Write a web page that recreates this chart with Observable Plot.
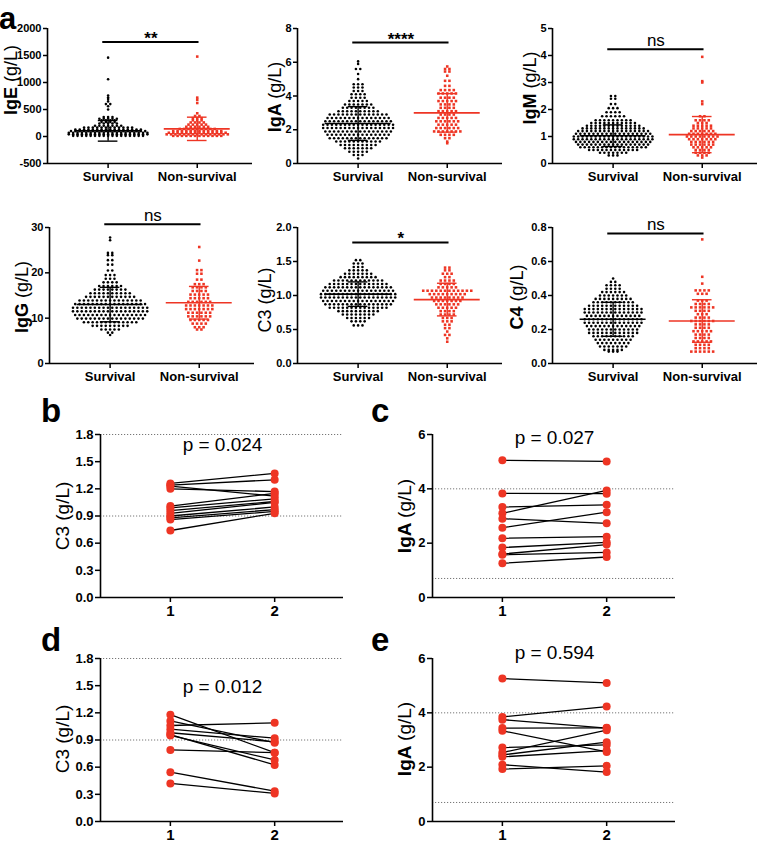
<!DOCTYPE html>
<html><head><meta charset="utf-8">
<script src="https://cdn.jsdelivr.net/npm/d3@7"></script>
<script src="https://cdn.jsdelivr.net/npm/@observablehq/plot@0.6"></script>
<style>
body{margin:0;background:#fff;font-family:Arial,"Liberation Sans",Helvetica,sans-serif;}
#fig{position:relative;width:759px;height:842px;overflow:hidden;background:#fff;}
.panel{position:absolute;}
.panel svg{display:block;overflow:visible;max-width:none;}
.letter{position:absolute;font-weight:bold;font-size:33px;line-height:1;color:#000;}
.ylab{position:absolute;white-space:nowrap;transform:translate(-50%,-50%) rotate(-90deg);color:#000;line-height:1;}
</style></head><body><div id="fig"></div>
<script>
// ---------------- DATA ----------------
const groups = ["Survival", "Non-survival"];

// Panel a: rows of dots as [value, number of dots in that row]
const igeSurvival = [[1460,1],[1060,1],[760,1],[720,1],[695,1],[650,1],[600,2],[560,1],[500,1],[360,3],[330,5],[300,4],[270,4],[240,5],[200,7],[165,12],[130,16],[100,18],[70,19],[40,19],[12,17]];
const igeNonSurvival = [[1480,1],[720,1],[680,1],[620,1],[430,1],[380,2],[340,3],[300,3],[260,4],[220,5],[180,6],[140,9],[100,12],[70,14],[40,15],[12,12]];
const igeMean = [105, 142], igeSD = [191, 216];
const igeTicks = [-500, 0, 500, 1000, 1500, 2000];

const igaSurvival = [[6.05,1],[5.9,1],[5.6,2],[5.3,1],[5.0,1],[4.7,3],[4.5,3],[4.3,3],[4.1,4],[3.9,4],[3.7,5],[3.5,7],[3.3,8],[3.1,10],[2.9,14],[2.7,15],[2.5,16],[2.3,17],[2.1,17],[1.9,16],[1.7,15],[1.5,14],[1.3,11],[1.1,9],[0.9,7],[0.7,5],[0.5,3],[0.3,1]];
const igaNonSurvival = [[5.75,1],[5.6,2],[5.45,2],[5.2,1],[4.9,2],[4.6,2],[4.35,4],[4.15,5],[3.9,4],[3.7,5],[3.5,4],[3.3,4],[3.1,5],[2.9,4],[2.7,5],[2.5,6],[2.3,5],[2.1,6],[1.9,7],[1.7,4],[1.5,2],[1.3,1],[1.2,1]];
const igaMean = [2.37, 3.0], igaSD = [1.0, 1.14];
const igaTicks = [0, 2, 4, 6, 8];

const igmSurvival = [[2.5,2],[2.4,2],[2.2,2],[2.05,3],[1.9,4],[1.75,6],[1.6,9],[1.5,11],[1.4,13],[1.3,15],[1.2,17],[1.1,18],[1.0,19],[0.9,19],[0.8,18],[0.7,17],[0.6,16],[0.5,12],[0.4,7],[0.3,3]];
const igmNonSurvival = [[3.95,1],[3.05,1],[3.0,1],[2.3,1],[2.2,1],[1.75,2],[1.6,4],[1.5,3],[1.4,5],[1.3,5],[1.2,6],[1.1,7],[1.0,8],[0.9,7],[0.8,6],[0.7,6],[0.6,5],[0.5,4],[0.4,4],[0.3,3],[0.22,1]];
const igmMean = [1.03, 1.07], igmSD = [0.40, 0.67];
const igmTicks = [0, 1, 2, 3, 4, 5];

const iggSurvival = [[27.8,1],[27.2,1],[24.4,2],[23.9,2],[22.8,2],[21.8,2],[20.5,2],[19.5,3],[18.7,3],[17.9,4],[17.1,6],[16.3,8],[15.5,10],[14.7,12],[13.9,15],[13.1,17],[12.3,18],[11.5,18],[10.7,17],[9.9,16],[9.1,13],[8.3,9],[7.5,5],[6.8,2],[6.3,1]];
const iggNonSurvival = [[25.7,1],[22.7,1],[20.6,2],[19.8,2],[18.5,2],[17.5,3],[16.8,4],[16.0,4],[15.2,5],[14.4,5],[13.6,6],[12.8,7],[12.0,7],[11.2,6],[10.4,6],[9.6,5],[8.8,4],[8.0,3],[7.5,2]];
const iggMean = [13.0, 13.4], iggSD = [3.8, 3.6];
const iggTicks = [0, 10, 20, 30];

const c3Survival = [[1.52,2],[1.47,3],[1.42,3],[1.37,5],[1.32,7],[1.27,9],[1.22,12],[1.17,14],[1.12,16],[1.07,17],[1.02,18],[0.97,18],[0.92,17],[0.87,16],[0.82,14],[0.77,10],[0.72,8],[0.67,6],[0.62,4],[0.56,3]];
const c3NonSurvival = [[1.41,2],[1.37,2],[1.32,3],[1.27,2],[1.22,4],[1.17,4],[1.12,5],[1.07,12],[1.02,9],[0.97,8],[0.92,7],[0.87,6],[0.82,5],[0.77,4],[0.72,4],[0.67,3],[0.62,3],[0.57,2],[0.52,2],[0.47,1],[0.42,2],[0.37,1],[0.32,1]];
const c3Mean = [1.02, 0.94], c3SD = [0.18, 0.24];
const c3Ticks = [0, 0.5, 1.0, 1.5, 2.0];

const c4Survival = [[0.50,1],[0.48,2],[0.46,4],[0.44,4],[0.42,6],[0.40,7],[0.38,9],[0.36,10],[0.34,12],[0.32,14],[0.30,14],[0.28,13],[0.26,14],[0.24,14],[0.22,13],[0.20,12],[0.18,12],[0.16,10],[0.14,9],[0.12,8],[0.10,7],[0.08,5],[0.07,3]];
const c4NonSurvival = [[0.73,1],[0.51,1],[0.47,1],[0.43,4],[0.41,3],[0.37,3],[0.35,4],[0.33,6],[0.31,4],[0.29,3],[0.27,4],[0.25,6],[0.23,4],[0.21,4],[0.19,5],[0.17,4],[0.15,4],[0.13,5],[0.11,4],[0.09,4],[0.07,6]];
const c4Mean = [0.26, 0.25], c4SD = [0.10, 0.125];
const c4Ticks = [0, 0.2, 0.4, 0.6, 0.8];

// significance marks
const sigLabels = ["**", "****", "ns", "ns", "*", "ns"];
const sigLevels = [1750, 7.17, 4.23, 30.7, 1.78, 0.765];

// Panels b–e: paired values, time point 1 -> 2
const timePoints = [1, 2];
const bC3Before = [1.26,1.24,1.23,1.20,1.01,0.99,0.96,0.93,0.90,0.88,0.86,0.74];
const bC3After  = [1.37,1.30,1.12,1.17,1.15,1.09,1.06,1.05,1.00,0.97,0.95,0.93];
const cIgaBefore = [5.05,3.83,3.33,3.10,2.90,2.57,2.18,1.84,1.60,1.57,1.26];
const cIgaAfter  = [5.01,3.82,3.41,3.94,2.73,3.14,2.24,2.03,1.95,1.66,1.49];
const dC3Before = [1.18,1.11,1.06,1.02,0.98,0.96,0.95,0.79,0.545,0.42];
const dC3After  = [0.76,0.87,1.09,0.92,0.88,0.625,0.68,0.76,0.335,0.31];
const eIgaBefore = [5.26,3.85,3.75,3.44,3.34,2.72,2.54,2.45,2.38,2.09,1.93];
const eIgaAfter  = [5.10,4.23,3.44,3.45,2.56,2.82,3.36,2.92,2.61,1.82,2.05];
const pValues = ["p = 0.024", "p = 0.027", "p = 0.012", "p = 0.594"];
const c3Range = [0.9, 1.8];   // dotted reference lines
const igaRange = [0.7, 4];
const c3PairTicks = [0, 0.3, 0.6, 0.9, 1.2, 1.5, 1.8];
const igaPairTicks = [0, 2, 4, 6];

// ---------------- DRAWING ----------------
const RED = "#ee3524";
const FONT = "Arial, 'Liberation Sans', Helvetica, sans-serif";
const fig = document.getElementById("fig");

function place(node, left, top) {
  const d = document.createElement("div");
  d.className = "panel";
  d.style.left = left + "px"; d.style.top = top + "px";
  d.appendChild(node);
  fig.appendChild(d);
}
function addLetter(t, left, top, size) {
  const d = document.createElement("div");
  d.className = "letter"; d.textContent = t;
  d.style.left = left + "px"; d.style.top = top + "px";
  if (size) d.style.fontSize = size + "px";
  fig.appendChild(d);
}
function addYLabel(main, unit, cx, cy, size, boldMain) {
  const d = document.createElement("div");
  d.className = "ylab";
  d.style.left = cx + "px"; d.style.top = cy + "px"; d.style.fontSize = size + "px";
  const m = document.createElement("span");
  m.textContent = main + " ";
  m.style.fontWeight = boldMain ? "bold" : "normal";
  const u = document.createElement("span");
  u.textContent = unit;
  d.appendChild(m); d.appendChild(u);
  fig.appendChild(d);
}

const DX = 0.049;
function expand(rows, g) {
  const pts = [];
  for (const [v, n] of rows) for (let k = 0; k < n; k++) pts.push({x: g + (k - (n - 1) / 2) * DX, v});
  return pts;
}
function statMarks(mean, sd, g, color) {
  const s = [{g, m: mean, lo: mean - sd, hi: mean + sd}];
  return [
    Plot.ruleY(s, {y: "m", x1: d => d.g - 0.37, x2: d => d.g + 0.37, stroke: color, strokeWidth: 1.6}),
    Plot.ruleX(s, {x: "g", y1: "lo", y2: "hi", stroke: color, strokeWidth: 1.4}),
    Plot.ruleY(s, {y: "hi", x1: d => d.g - 0.11, x2: d => d.g + 0.11, stroke: color, strokeWidth: 1.4}),
    Plot.ruleY(s, {y: "lo", x1: d => d.g - 0.11, x2: d => d.g + 0.11, stroke: color, strokeWidth: 1.4})
  ];
}

function scatter(p) {
  const ymin = p.ticks[0], ymax = p.ticks[p.ticks.length - 1];
  const xd = [0.32, 2.62];
  const isNs = p.sig === "ns";
  return Plot.plot({
    width: p.width, height: 185,
    marginLeft: p.ml, marginRight: p.width - p.ml - 205, marginTop: p.mt, marginBottom: 22,
    style: {background: "transparent", fontFamily: FONT, color: "black", overflow: "visible"},
    x: {domain: xd, axis: null},
    y: {domain: [ymin, ymax], axis: null},
    marks: [
      Plot.dot(expand(p.surv, 1), {x: "x", y: "v", r: 1.3, fill: "black"}),
      Plot.dot(expand(p.non, 2), {x: "x", y: "v", r: 1.45, symbol: "square", fill: RED}),
      ...statMarks(p.mean[0], p.sd[0], 1, "black"),
      ...statMarks(p.mean[1], p.sd[1], 2, RED),
      Plot.ruleY([p.sigY], {x1: 0.94, x2: 2.02, stroke: "black", strokeWidth: 2}),
      Plot.text([p.sig], {x: 1.48, y: p.sigY, text: d => d, lineAnchor: "bottom",
        dy: isNs ? -3 : 2, fontSize: 17, fontWeight: isNs ? "normal" : "bold"}),
      Plot.ruleX([xd[0]], {y1: ymin, y2: ymax, stroke: "black", strokeWidth: 1.6}),
      Plot.ruleY([ymin], {x1: xd[0], x2: xd[1], stroke: "black", strokeWidth: 1.6}),
      Plot.axisY({ticks: p.ticks, tickFormat: p.fmt, tickSize: 4, tickPadding: 2, strokeWidth: 1.5,
        fontSize: 11, fontWeight: "bold", label: null}),
      Plot.axisX({ticks: [1, 2], tickFormat: d => groups[d - 1], tickSize: 5, tickPadding: 3, strokeWidth: 1.5,
        fontSize: 13, fontWeight: "bold", label: null})
    ]
  });
}

function paired(p) {
  const data = p.before.flatMap((v, i) => [{t: timePoints[0], v, id: i}, {t: timePoints[1], v: p.after[i], id: i}]);
  const ymin = p.ticks[0], ymax = p.ticks[p.ticks.length - 1];
  const xd = [0.33, 2.66];
  return Plot.plot({
    width: p.ml + 243 + 4, height: p.height,
    marginLeft: p.ml, marginRight: 4, marginTop: 39, marginBottom: p.height - 39 - 163,
    style: {background: "transparent", fontFamily: FONT, color: "black", overflow: "visible"},
    x: {domain: xd, axis: null},
    y: {domain: [ymin, ymax], axis: null},
    marks: [
      Plot.ruleY(p.range, {stroke: "#777", strokeWidth: 1, strokeDasharray: "1.2,1.8"}),
      Plot.line(data, {x: "t", y: "v", z: "id", stroke: "black", strokeWidth: 1.3}),
      Plot.dot(data, {x: "t", y: "v", r: 4, fill: RED}),
      Plot.text([p.p], {x: 1.5, y: p.pY, text: d => d, fontSize: 19, fontWeight: "normal"}),
      Plot.ruleX([xd[0]], {y1: ymin, y2: ymax, stroke: "black", strokeWidth: 1.6}),
      Plot.ruleY([ymin], {x1: xd[0], x2: xd[1], stroke: "black", strokeWidth: 1.6}),
      Plot.axisY({ticks: p.ticks, tickFormat: p.fmt, tickSize: 5, tickPadding: 2, strokeWidth: 1.5,
        fontSize: 13, fontWeight: "bold", label: null}),
      Plot.axisX({ticks: timePoints, tickFormat: d => String(d), tickSize: 5, tickPadding: 3, strokeWidth: 1.5,
        fontSize: 15, fontWeight: "bold", label: null})
    ]
  });
}

const plain = d => String(d);
const one = d => d.toFixed(1);

// Panel a
place(scatter({width: 252, ml: 47, mt: 28, ticks: igeTicks, fmt: plain, surv: igeSurvival, non: igeNonSurvival, mean: igeMean, sd: igeSD, sig: sigLabels[0], sigY: sigLevels[0]}), 0, 0);
place(scatter({width: 252, ml: 47, mt: 28, ticks: igaTicks, fmt: plain, surv: igaSurvival, non: igaNonSurvival, mean: igaMean, sd: igaSD, sig: sigLabels[1], sigY: sigLevels[1]}), 250, 0);
place(scatter({width: 259, ml: 52, mt: 28, ticks: igmTicks, fmt: plain, surv: igmSurvival, non: igmNonSurvival, mean: igmMean, sd: igmSD, sig: sigLabels[2], sigY: sigLevels[2]}), 500, 0);
place(scatter({width: 252, ml: 49, mt: 27, ticks: iggTicks, fmt: plain, surv: iggSurvival, non: iggNonSurvival, mean: iggMean, sd: iggSD, sig: sigLabels[3], sigY: sigLevels[3]}), 0, 200);
place(scatter({width: 252, ml: 47, mt: 27, ticks: c3Ticks, fmt: one, surv: c3Survival, non: c3NonSurvival, mean: c3Mean, sd: c3SD, sig: sigLabels[4], sigY: sigLevels[4]}), 250, 200);
place(scatter({width: 259, ml: 52, mt: 27, ticks: c4Ticks, fmt: one, surv: c4Survival, non: c4NonSurvival, mean: c4Mean, sd: c4SD, sig: sigLabels[5], sigY: sigLevels[5]}), 500, 200);

addYLabel("IgE", "(g/L)", 11, 80, 18, true);
addYLabel("IgA", "(g/L)", 275, 97, 18, true);
addYLabel("IgM", "(g/L)", 530, 88, 18, true);
addYLabel("IgG", "(g/L)", 22, 297, 18, true);
addYLabel("C3", "(g/L)", 265, 300, 18, false);
addYLabel("C4", "(g/L)", 517, 297, 18, true);

// Panels b–e
place(paired({ml: 100, height: 230, ticks: c3PairTicks, fmt: one, before: bC3Before, after: bC3After, range: c3Range, p: pValues[0], pY: 1.68}), 0, 395);
place(paired({ml: 52, height: 230, ticks: igaPairTicks, fmt: plain, before: cIgaBefore, after: cIgaAfter, range: igaRange, p: pValues[1], pY: 5.89}), 380, 395);
place(paired({ml: 100, height: 223, ticks: c3PairTicks, fmt: one, before: dC3Before, after: dC3After, range: c3Range, p: pValues[2], pY: 1.49}), 0, 619);
place(paired({ml: 52, height: 223, ticks: igaPairTicks, fmt: plain, before: eIgaBefore, after: eIgaAfter, range: igaRange, p: pValues[3], pY: 6.22}), 380, 619);

addYLabel("C3", "(g/L)", 62, 516, 19, false);
addYLabel("IgA", "(g/L)", 404, 516, 19, true);
addYLabel("C3", "(g/L)", 62, 739, 19, false);
addYLabel("IgA", "(g/L)", 404, 739, 19, true);

addLetter("a", -1, 2.5, 31);
addLetter("b", 41, 394);
addLetter("c", 371, 394);
addLetter("d", 41, 623);
addLetter("e", 371, 623);
</script></body></html>
